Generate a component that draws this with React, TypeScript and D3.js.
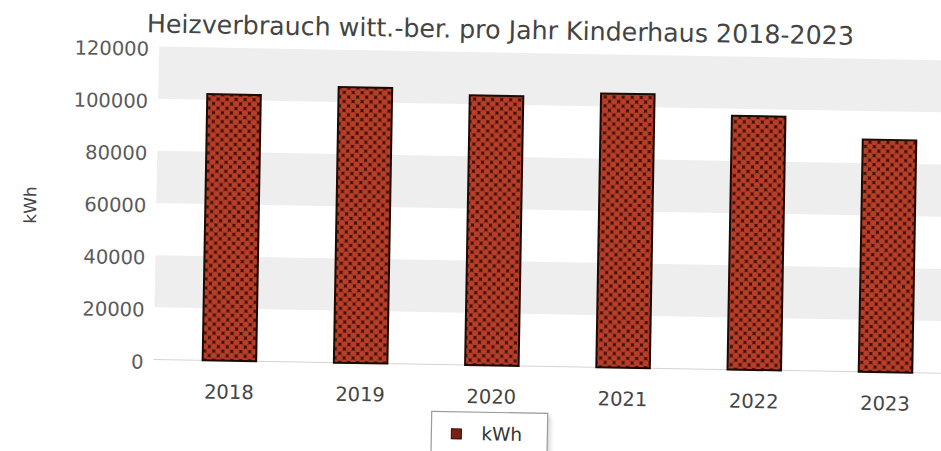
import React from 'react';
import * as d3 from 'd3';

const years = ['2018', '2019', '2020', '2021', '2022', '2023'];
const kwh = [102100, 105700, 103400, 105000, 97300, 89100];
const yTicks = [0, 20000, 40000, 60000, 80000, 100000, 120000];
const greyBands = [[20000, 40000], [60000, 80000], [100000, 120000]];
const title = 'Heizverbrauch witt.-ber. pro Jahr Kinderhaus 2018-2023';
const yAxisTitle = 'kWh';
const legendLabel = 'kWh';

const W = 941;
const H = 451;

export default function App() {
  const x = d3
    .scaleBand<string>()
    .domain(years)
    .range([166.2, 953.6])
    .paddingInner(0.592)
    .paddingOuter(0.296);
  const y = d3.scaleLinear().domain([0, 120000]).range([365, 52]);
  const font = '"DejaVu Sans", sans-serif';

  return (
    <svg
      width={W}
      height={H}
      viewBox={`0 0 ${W} ${H}`}
      style={{ position: 'absolute', left: 0, top: 0, background: '#fff' }}
    >
      <defs>
        <pattern id="lattice" patternUnits="userSpaceOnUse" width={9} height={9}>
          <rect width={9} height={9} fill="#3c100a" />
          <circle cx={4.5} cy={4.5} r={3.1} fill="#b83e28" />
          <circle cx={0} cy={0} r={3.1} fill="#b83e28" />
          <circle cx={9} cy={0} r={3.1} fill="#b83e28" />
          <circle cx={0} cy={9} r={3.1} fill="#b83e28" />
          <circle cx={9} cy={9} r={3.1} fill="#b83e28" />
        </pattern>
        <filter id="shadow" x="-20%" y="-20%" width="140%" height="140%">
          <feGaussianBlur stdDeviation="2" />
        </filter>
      </defs>
      <g transform="rotate(1 470 225)">
        {greyBands.map(([a, b], i) => (
          <rect key={i} x={156} y={y(b)} width={820} height={y(a) - y(b)} fill="#eeeeee" />
        ))}
        <line x1={156} x2={976} y1={y(0)} y2={y(0)} stroke="#d4d4d4" strokeWidth={1} />

        <text
          x={497}
          y={38}
          textAnchor="middle"
          fontFamily={font}
          fontSize={25.3}
          fill="#444"
        >
          {title}
        </text>

        {yTicks.map((t) => (
          <text
            key={t}
            x={146}
            y={y(t) + 2.5}
            dy="0.35em"
            textAnchor="end"
            fontFamily={font}
            fontSize={19.5}
            fill="#5a5a5a"
          >
            {t}
          </text>
        ))}
        <text
          transform={`translate(30 ${212.7}) rotate(-90)`}
          textAnchor="middle"
          dy="0.35em"
          fontFamily={font}
          fontSize={17}
          fill="#444"
        >
          {yAxisTitle}
        </text>

        {years.map((yr, i) => (
          <rect
            key={yr}
            x={x(yr)!}
            y={y(kwh[i])}
            width={x.bandwidth()}
            height={y(0) - y(kwh[i])}
            fill="url(#lattice)"
            stroke="#1c0a06"
            strokeWidth={2}
          />
        ))}

        {years.map((yr) => (
          <text
            key={yr}
            x={x(yr)! + x.bandwidth() / 2}
            y={403}
            textAnchor="middle"
            fontFamily={font}
            fontSize={19.5}
            fill="#444"
          >
            {yr}
          </text>
        ))}

        <rect x={438} y={415} width={116} height={44} fill="#bbb" opacity={0.6} filter="url(#shadow)" />
        <rect x={435} y={412} width={116} height={44} fill="#fff" stroke="#9a9a9a" strokeWidth={1.2} />
        <rect x={455} y={429} width={10} height={10} fill="#7a1f12" stroke="#2a0c06" strokeWidth={1} />
        <text x={485} y={440} fontFamily={font} fontSize={18.5} fill="#333">
          {legendLabel}
        </text>
      </g>
    </svg>
  );
}
